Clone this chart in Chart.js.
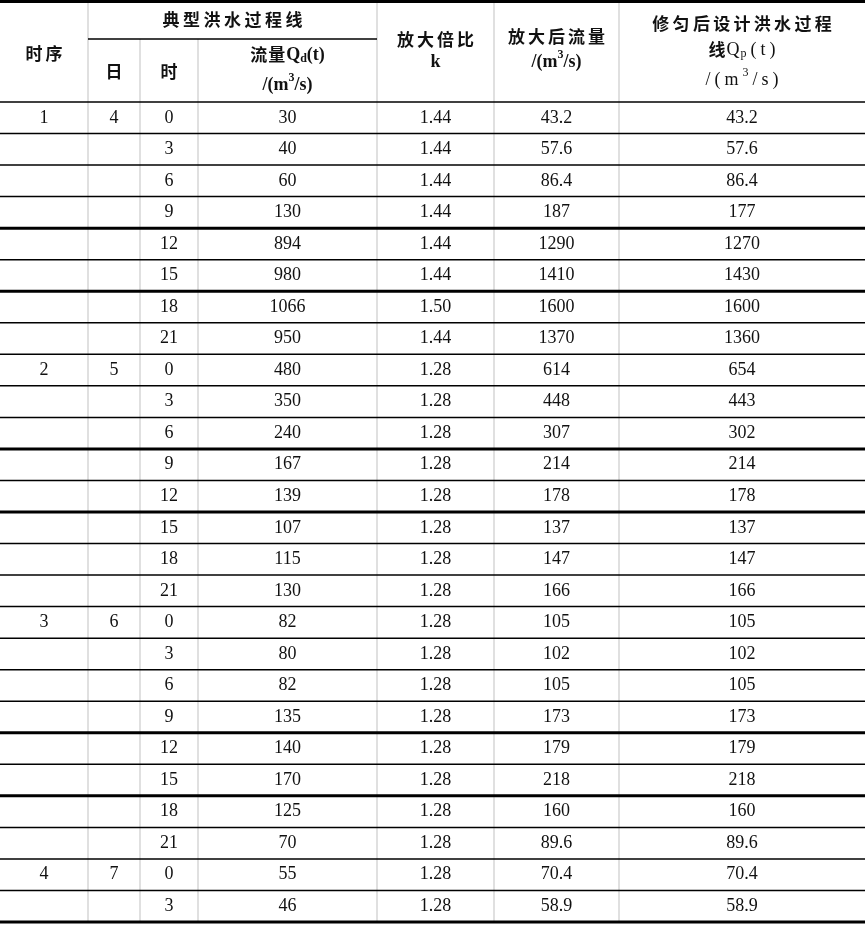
<!DOCTYPE html>
<html>
<head>
<meta charset="utf-8">
<script src="https://cdn.jsdelivr.net/npm/chart.js@4.4.1/dist/chart.umd.min.js"></script>
<style>
  html, body { margin: 0; padding: 0; background: #fff; }
  #wrap { width: 865px; height: 925px; }
</style>
</head>
<body>
<div id="wrap"><canvas id="tbl"></canvas></div>
<script>
// values of the table, one entry per row
const periods = ['1', '2', '3', '4'];
const days = ['4', '5', '6', '7'];
const periodStart = [0, 8, 16, 24];
const hours = ['0', '3', '6', '9', '12', '15', '18', '21',
  '0', '3', '6', '9', '12', '15', '18', '21',
  '0', '3', '6', '9', '12', '15', '18', '21',
  '0', '3'];
const qTypical = ['30', '40', '60', '130', '894', '980', '1066', '950',
  '480', '350', '240', '167', '139', '107', '115', '130',
  '82', '80', '82', '135', '140', '170', '125', '70',
  '55', '46'];
const ratioK = ['1.44', '1.44', '1.44', '1.44', '1.44', '1.44', '1.50', '1.44',
  '1.28', '1.28', '1.28', '1.28', '1.28', '1.28', '1.28', '1.28',
  '1.28', '1.28', '1.28', '1.28', '1.28', '1.28', '1.28', '1.28',
  '1.28', '1.28'];
const qScaled = ['43.2', '57.6', '86.4', '187', '1290', '1410', '1600', '1370',
  '614', '448', '307', '214', '178', '137', '147', '166',
  '105', '102', '105', '173', '179', '218', '160', '89.6',
  '70.4', '58.9'];
const qSmoothed = ['43.2', '57.6', '86.4', '177', '1270', '1430', '1600', '1360',
  '654', '443', '302', '214', '178', '137', '147', '166',
  '105', '102', '105', '173', '179', '218', '160', '89.6',
  '70.4', '58.9'];
// rows after which the rule is drawn heavy
const heavyRules = [4, 6, 11, 13, 20, 22];

// layout (x in px units, y in row units, header above 0)
const colEdges = [0, 88, 140, 198, 377, 494, 619, 865];
const ROWS = hours.length;
const HEADER = 3.234;
const SUB = -2.0;

const colPeriod = hours.map((h, i) => {
  const k = periodStart.indexOf(i);
  return k >= 0 ? periods[k] : '';
});
const colDay = hours.map((h, i) => {
  const k = periodStart.indexOf(i);
  return k >= 0 ? days[k] : '';
});
const columns = [colPeriod, colDay, hours, qTypical, ratioK, qScaled, qSmoothed];
const colMid = c => (colEdges[c] + colEdges[c + 1]) / 2;

const CJK = 'bold 17px "Noto Sans CJK SC"';
const LB = 'bold 18px "Liberation Serif"';
const LBs = 'bold 12px "Liberation Serif"';
const LN = '18px "Liberation Serif"';
const LNs = '12px "Liberation Serif"';
const DATA = '18px "Liberation Serif"';

const unitBold = [{ t: '/(m', f: LB }, { t: '3', f: LBs, dy: -7 }, { t: '/s)', f: LB }];

const header = [
  { c: 0, y: -1.55, runs: [{ t: '时序', f: CJK, sp: 3 }] },
  { x: (colEdges[1] + colEdges[4]) / 2, y: -2.60, runs: [{ t: '典型洪水过程线', f: CJK, sp: 3.5 }] },
  { c: 1, y: -0.95, runs: [{ t: '日', f: CJK }] },
  { c: 2, y: -0.95, runs: [{ t: '时', f: CJK }] },
  { c: 3, y: -1.49, runs: [{ t: '流量', f: CJK, sp: 1 }, { t: 'Q', f: LB }, { t: 'd', f: LBs, dy: 4 }, { t: '(t)', f: LB }] },
  { c: 3, y: -0.54, runs: unitBold },
  { c: 4, y: -1.97, runs: [{ t: '放大倍比', f: CJK, sp: 3 }] },
  { c: 4, y: -1.27, runs: [{ t: 'k', f: LB }] },
  { c: 5, y: -2.06, runs: [{ t: '放大后流量', f: CJK, sp: 3 }] },
  { c: 5, y: -1.27, runs: unitBold },
  { c: 6, y: -2.50, runs: [{ t: '修匀后设计洪水过程', f: CJK, sp: 3.3 }] },
  { c: 6, y: -1.65, runs: [{ t: '线', f: CJK, sp: 1 }, { t: 'Q', f: LN, sp: 1 }, { t: 'p', f: LNs, dy: 4, sp: 4 }, { t: '(t)', f: LN, sp: 4 }] },
  { c: 6, y: -0.70, runs: [{ t: '/(m', f: LN, sp: 4 }, { t: '3', f: LNs, dy: -7, sp: 4 }, { t: '/s)', f: LN, sp: 4 }] },
];

function drawRuns(ctx, runs, cx, cy) {
  let w = 0;
  const parts = [];
  runs.forEach(r => {
    ctx.font = r.f;
    for (const ch of r.t) {
      const cw = ctx.measureText(ch).width;
      parts.push({ ch, f: r.f, dy: r.dy || 0, x: w });
      w += cw + (r.sp || 0);
    }
  });
  const last = runs[runs.length - 1];
  w -= (last.sp || 0);
  const x0 = cx - w / 2;
  parts.forEach(p => {
    ctx.font = p.f;
    ctx.fillText(p.ch, x0 + p.x, cy + p.dy);
  });
}

const tablePlugin = {
  id: 'tablePlugin',
  beforeDatasetsDraw(chart) {
    const ctx = chart.ctx;
    const X = v => chart.scales.x.getPixelForValue(v);
    const Y = v => chart.scales.y.getPixelForValue(v);
    ctx.save();
    // vertical rules, light grey
    ctx.strokeStyle = '#d6d6d6';
    ctx.lineWidth = 1.5;
    colEdges.slice(1, -1).forEach((e, k) => {
      const top = (k === 1 || k === 2) ? Y(SUB) : Y(-HEADER);
      ctx.beginPath();
      ctx.moveTo(X(e), top);
      ctx.lineTo(X(e), Y(ROWS));
      ctx.stroke();
    });
    // horizontal rules
    ctx.strokeStyle = '#000';
    const hline = (y, x1, x2, lw) => {
      ctx.lineWidth = lw;
      ctx.beginPath();
      ctx.moveTo(X(x1), y);
      ctx.lineTo(X(x2), y);
      ctx.stroke();
    };
    const L = colEdges[0], R = colEdges[colEdges.length - 1];
    hline(Y(-HEADER) + 1.5, L, R, 3);
    hline(Y(SUB), colEdges[1], colEdges[4], 1.5);
    hline(Y(0), L, R, 1.5);
    for (let i = 1; i < ROWS; i++) {
      hline(Y(i), L, R, heavyRules.includes(i) ? 3 : 1.5);
    }
    hline(Y(ROWS), L, R, 3);
    ctx.restore();
  },
  afterDatasetsDraw(chart) {
    const ctx = chart.ctx;
    const X = v => chart.scales.x.getPixelForValue(v);
    const Y = v => chart.scales.y.getPixelForValue(v);
    ctx.save();
    ctx.fillStyle = '#111';
    ctx.textBaseline = 'middle';
    ctx.textAlign = 'left';
    header.forEach(h => {
      const cx = h.c !== undefined ? X(colMid(h.c)) : X(h.x);
      drawRuns(ctx, h.runs, cx, Y(h.y));
    });
    ctx.textAlign = 'center';
    ctx.font = DATA;
    chart.data.datasets.forEach((ds, d) => {
      const meta = chart.getDatasetMeta(d);
      meta.data.forEach((pt, i) => {
        const t = ds.data[i].t;
        if (t) ctx.fillText(t, pt.x, pt.y);
      });
    });
    ctx.restore();
  }
};

new Chart(document.getElementById('tbl'), {
  type: 'scatter',
  data: {
    datasets: columns.map((col, c) => ({
      label: 'col' + c,
      data: col.map((v, i) => ({ x: colMid(c), y: i + 0.5, t: v })),
      pointRadius: 0,
      pointHoverRadius: 0
    }))
  },
  options: {
    responsive: true,
    maintainAspectRatio: false,
    animation: false,
    events: [],
    layout: { padding: 0 },
    plugins: { legend: { display: false }, tooltip: { enabled: false } },
    scales: {
      x: { type: 'linear', min: 0, max: 865, display: false },
      y: { type: 'linear', min: -HEADER, max: ROWS + 0.095, reverse: true, display: false }
    }
  },
  plugins: [tablePlugin]
});
</script>
</body>
</html>
